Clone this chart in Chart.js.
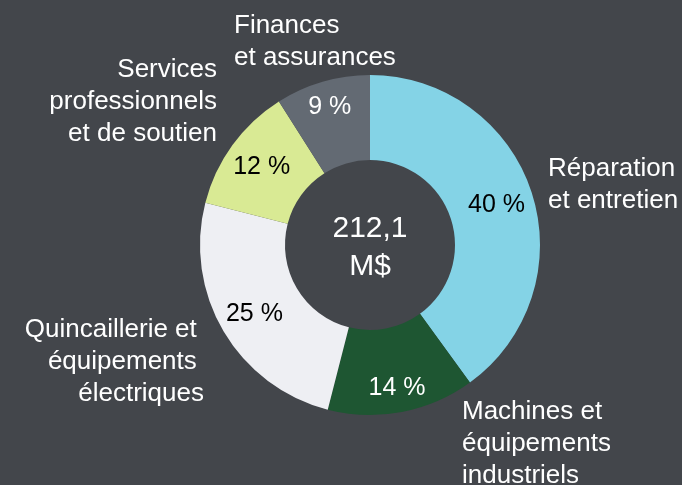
<!DOCTYPE html>
<html>
<head>
<meta charset="utf-8">
<script src="https://cdn.jsdelivr.net/npm/chart.js@4.4.1/dist/chart.umd.min.js"></script>
<style>
  html, body { margin: 0; padding: 0; background: #43464B; }
  #wrap { width: 682px; height: 485px; }
</style>
</head>
<body>
<div id="wrap"><canvas id="c" width="682" height="485"></canvas></div>
<script>
// ---- Data ----
const categories = [
  ["Réparation", "et entretien"],
  ["Machines et", "équipements", "industriels"],
  ["Quincaillerie et ", "équipements ", "électriques"],
  ["Services", "professionnels", "et de soutien"],
  ["Finances", "et assurances"]
];
const shares = [40, 14, 25, 12, 9];
const percentLabels = ["40 %", "14 %", "25 %", "12 %", "9 %"];
const totalLabel = ["212,1", "M$"];

// ---- Styles ----
const sliceColors = ["#84D3E6", "#1E5632", "#EEEFF3", "#D9EA94", "#636A73"];
const pctColors = ["#000000", "#FFFFFF", "#000000", "#000000", "#FFFFFF"];
const FONT = "'Liberation Sans', Arial, sans-serif";

// label placement relative to the doughnut centre (style, not data)
const pctRadiusFrac = [0.565, 0.70, 0.58, 0.576, 0.70];
const outerLabelPlacement = [
  { dx: 178, dy: -69, align: "left" },
  { dx: 92, dy: 174, align: "left" },
  { dx: -166, dy: 92, align: "right" },
  { dx: -153, dy: -168, align: "right" },
  { dx: -136, dy: -212, align: "left" }
];

const labelsPlugin = {
  id: "labelsPlugin",
  afterDatasetsDraw(chart) {
    const ctx = chart.ctx;
    const meta = chart.getDatasetMeta(0);
    const first = meta.data[0];
    const cx = first.x, cy = first.y;
    ctx.save();
    // percentage labels
    ctx.font = "25px " + FONT;
    ctx.textAlign = "center";
    ctx.textBaseline = "middle";
    meta.data.forEach((arc, i) => {
      const p = arc.getProps(["startAngle", "endAngle", "innerRadius", "outerRadius"], true);
      const mid = (p.startAngle + p.endAngle) / 2;
      const r = p.innerRadius + pctRadiusFrac[i] * (p.outerRadius - p.innerRadius);
      ctx.fillStyle = pctColors[i];
      ctx.fillText(percentLabels[i], cx + Math.cos(mid) * r, cy + Math.sin(mid) * r + 1);
    });
    // centre total
    ctx.fillStyle = "#FFFFFF";
    ctx.font = "30px " + FONT;
    ctx.textBaseline = "alphabetic";
    ctx.fillText(totalLabel[0], cx, cy - 8);
    ctx.fillText(totalLabel[1], cx, cy + 30);
    // outer category labels
    ctx.font = "26px " + FONT;
    categories.forEach((lines, i) => {
      const pl = outerLabelPlacement[i];
      ctx.textAlign = pl.align;
      lines.forEach((ln, j) => {
        ctx.fillText(ln, cx + pl.dx, cy + pl.dy + j * 32);
      });
    });
    ctx.restore();
  }
};

new Chart(document.getElementById("c"), {
  type: "doughnut",
  data: {
    labels: categories.map(l => l.join(" ")),
    datasets: [{
      data: shares,
      backgroundColor: sliceColors,
      borderWidth: 0,
      hoverOffset: 0
    }]
  },
  options: {
    responsive: false,
    devicePixelRatio: 1,
    animation: false,
    events: [],
    cutout: "50%",
    rotation: 0,
    layout: { padding: { left: 200, right: 142, top: 75, bottom: 70 } },
    plugins: {
      legend: { display: false },
      tooltip: { enabled: false }
    }
  },
  plugins: [labelsPlugin]
});
</script>
</body>
</html>
